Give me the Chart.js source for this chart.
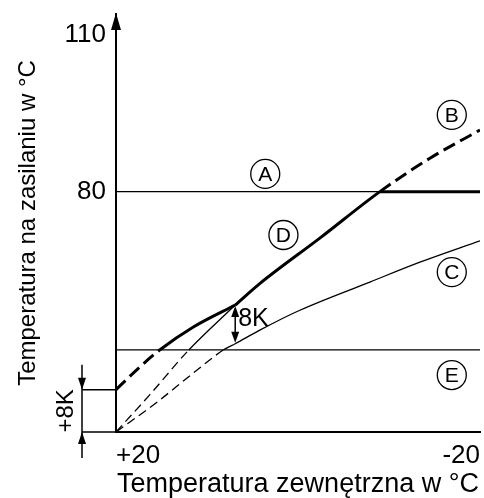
<!DOCTYPE html>
<html>
<head>
<meta charset="utf-8">
<script src="https://cdn.jsdelivr.net/npm/chart.js@4.4.0/dist/chart.umd.min.js"></script>
<style>
  html, body { margin: 0; padding: 0; background: #fff; }
  #wrap { width: 484px; height: 498px; }
</style>
</head>
<body>
<div id="wrap"><canvas id="chartKrzywa"></canvas></div>
<script>
// Krzywa grzewcza - temperatura zasilania w funkcji temperatury zewnetrznej
const xTicks = [-20, 20];
const yTicks = [80, 110];
const granicaA = 80;    // linia A
const granicaE = 49.7;  // linia E

const liniaX = [20, -20];

// Krzywa B (gruba) do punktu zalamania
const krzywaB1X = [20, 17.6, 15.2, 11.5, 6.9];
const krzywaB1Y = [42.1, 46.1, 49.7, 54.1, 58.3];
// Krzywa B / D (gruba) za punktem zalamania
const krzywaB2X = [6.9, 4.2, -2.4, -9.0, -14.5, -20];
const krzywaB2Y = [58.3, 62.4, 71.1, 80, 86.4, 91.8];
// Cienka krzywa od +20 do punktu zalamania
const krzywaPX = [20, 16.3, 12.0, 6.9];
const krzywaPY = [34, 41.1, 49.7, 58.3];
// Krzywa C
const krzywaCX = [20, 15.5, 11.5, 8.2, 6.9, 4.2, -0.2, -7.9, -13.4, -20];
const krzywaCY = [34, 39.7, 45.3, 49.7, 50.9, 53.5, 57.3, 62.7, 66.5, 70.6];
// Odcinek D na poziomie 80
const odcinekDX = [-9.0, -20];

// Oznaczenia w kolkach
const etykiety = ['A', 'B', 'C', 'D', 'E'];
const etykietyX = [3.6, -16.9, -16.9, 1.6, -16.9];
const etykietyY = [83.4, 94.7, 64.6, 71.7, 44.9];

const FONT = '"Liberation Sans", Arial, sans-serif';

function zip(xs, ys) {
    return xs.map((x, i) => ({ x: x, y: ys[i] }));
}

// linia przerywana ponizej E i powyzej A
function przerywana(wzor) {
    return function (ctx) {
        const y0 = ctx.p0.parsed.y, y1 = ctx.p1.parsed.y;
        if (Math.max(y0, y1) <= granicaE + 0.01 || Math.min(y0, y1) >= granicaA - 0.01) return wzor;
        return undefined;
    };
}

function grotStrzalki(ctx, x, y, dir, len, half) {
    // dir: -1 w gore, 1 w dol
    ctx.beginPath();
    ctx.moveTo(x, y);
    ctx.lineTo(x - half, y - dir * len);
    ctx.lineTo(x + half, y - dir * len);
    ctx.closePath();
    ctx.fill();
}

const opisyPlugin = {
    id: 'opisy',
    afterDraw(chart) {
        const { ctx, chartArea } = chart;
        const xs = chart.scales.x, ys = chart.scales.y;
        ctx.save();
        ctx.fillStyle = '#000';
        ctx.strokeStyle = '#000';

        // strzalka osi Y
        grotStrzalki(ctx, chartArea.left, chartArea.top - 1, -1, 17, 5);

        // przedluzenie osi X i znacznik +8K po lewej
        const yB = ys.getPixelForValue(krzywaB1Y[0]);
        const yDol = chartArea.bottom;
        const xBr = chartArea.left - 34;
        ctx.lineWidth = 1.5;
        ctx.beginPath();
        ctx.moveTo(xBr, yB); ctx.lineTo(chartArea.left, yB);
        ctx.moveTo(xBr, yDol); ctx.lineTo(chartArea.left, yDol);
        ctx.moveTo(xBr, yB - 25); ctx.lineTo(xBr, yDol + 26);
        ctx.stroke();
        grotStrzalki(ctx, xBr, yB, 1, 12, 4);
        grotStrzalki(ctx, xBr, yDol, -1, 12, 4);

        ctx.save();
        ctx.translate(chartArea.left - 50, (yB + yDol) / 2);
        ctx.rotate(-Math.PI / 2);
        ctx.font = '24px ' + FONT;
        ctx.textAlign = 'center';
        ctx.textBaseline = 'middle';
        ctx.fillText('+8K', 0, 0);
        ctx.restore();

        // strzalka 8K miedzy krzywa D i C
        const xk = xs.getPixelForValue(krzywaB2X[0]);
        const yGora = ys.getPixelForValue(krzywaB2Y[0]);
        const yC = ys.getPixelForValue(krzywaCY[4]);
        ctx.lineWidth = 1.5;
        ctx.beginPath();
        ctx.moveTo(xk, yGora + 4); ctx.lineTo(xk, yC - 4);
        ctx.stroke();
        grotStrzalki(ctx, xk, yGora + 1, -1, 11, 4);
        grotStrzalki(ctx, xk, yC - 1, 1, 11, 4);
        ctx.font = '25px ' + FONT;
        ctx.textAlign = 'left';
        ctx.textBaseline = 'middle';
        ctx.fillText('8K', xk + 3, yGora + 14);

        // oznaczenia w kolkach
        ctx.font = '21px ' + FONT;
        ctx.textAlign = 'center';
        ctx.lineWidth = 1.3;
        etykiety.forEach((t, i) => {
            const px = xs.getPixelForValue(etykietyX[i]);
            const py = ys.getPixelForValue(etykietyY[i]);
            ctx.beginPath();
            ctx.arc(px, py, 14.5, 0, Math.PI * 2);
            ctx.stroke();
            ctx.fillText(t, px, py + 1);
        });
        ctx.restore();
    }
};

function initChartKrzywa() {
    const ctx = document.getElementById('chartKrzywa');
    const cienka = { borderColor: '#000', borderWidth: 1.3, pointRadius: 0, fill: false };
    const gruba = { borderColor: '#000', borderWidth: 3, pointRadius: 0, fill: false };

    new Chart(ctx, {
        type: 'line',
        data: {
            datasets: [
                Object.assign({ label: 'A', data: zip(liniaX, [granicaA, granicaA]) }, cienka),
                Object.assign({ label: 'E', data: zip(liniaX, [granicaE, granicaE]) }, cienka),
                Object.assign({ label: 'C', data: zip(krzywaCX, krzywaCY), cubicInterpolationMode: 'monotone',
                    segment: { borderDash: przerywana([9, 5]) } }, cienka),
                Object.assign({ label: 'P', data: zip(krzywaPX, krzywaPY), cubicInterpolationMode: 'monotone',
                    segment: { borderDash: przerywana([9, 5]) } }, cienka),
                Object.assign({ label: 'B1', data: zip(krzywaB1X, krzywaB1Y), cubicInterpolationMode: 'monotone',
                    segment: { borderDash: przerywana([13, 6]) } }, gruba),
                Object.assign({ label: 'B2', data: zip(krzywaB2X, krzywaB2Y), cubicInterpolationMode: 'monotone',
                    segment: { borderDash: przerywana([13, 6]) } }, gruba),
                Object.assign({ label: 'D', data: zip(odcinekDX, [granicaA, granicaA]) }, gruba)
            ]
        },
        options: {
            responsive: true,
            maintainAspectRatio: false,
            animation: false,
            events: [],
            layout: { padding: { top: 14, right: 4, left: 0, bottom: 0 } },
            plugins: {
                legend: { display: false },
                tooltip: { enabled: false }
            },
            scales: {
                x: {
                    type: 'linear',
                    reverse: true,
                    min: -20,
                    max: 20,
                    grid: { display: false },
                    border: { display: true, color: '#000', width: 2 },
                    afterBuildTicks: s => { s.ticks = xTicks.map(v => ({ value: v })); },
                    afterFit: s => { s.height = 66; },
                    ticks: {
                        align: 'inner',
                        padding: 0,
                        color: '#000',
                        font: { family: FONT, size: 26 },
                        callback: v => (v > 0 ? '+' + v : String(v))
                    },
                    title: {
                        display: true,
                        text: 'Temperatura zewnętrzna w °C',
                        color: '#000',
                        font: { family: FONT, size: 27, lineHeight: 1 },
                        padding: 0
                    }
                },
                y: {
                    type: 'linear',
                    min: 34,
                    max: 114,
                    grid: { display: false },
                    border: { display: true, color: '#000', width: 2 },
                    afterBuildTicks: s => { s.ticks = yTicks.map(v => ({ value: v })); },
                    afterFit: s => { s.width = 116; },
                    ticks: {
                        padding: 2,
                        color: '#000',
                        font: { family: FONT, size: 26, lineHeight: 0.9 }
                    },
                    title: {
                        display: true,
                        text: 'Temperatura na zasilaniu w °C',
                        color: '#000',
                        font: { family: FONT, size: 24 },
                        padding: { top: 14, bottom: 0 }
                    }
                }
            }
        },
        plugins: [opisyPlugin]
    });
}

document.addEventListener('DOMContentLoaded', function () {
    try {
        initChartKrzywa();
    } catch (error) {
        console.error('Blad wykresu:', error);
    }
});
</script>
</body>
</html>
